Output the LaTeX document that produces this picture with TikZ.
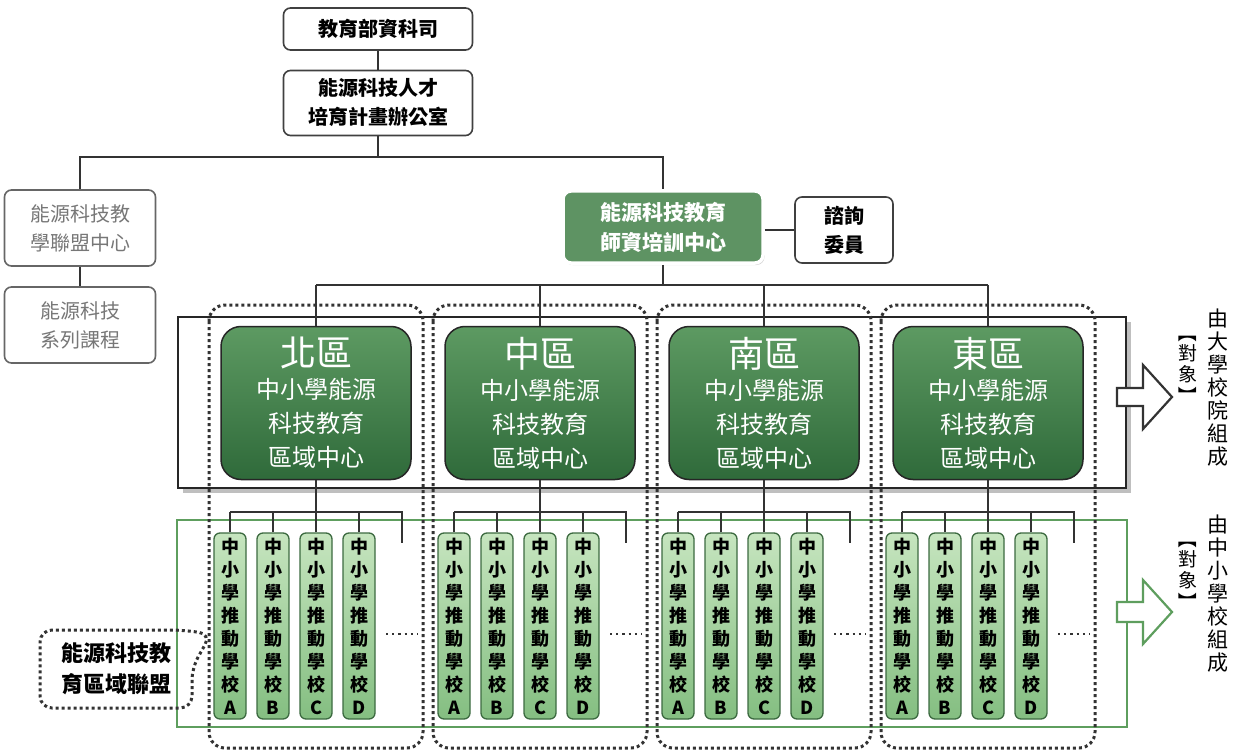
\documentclass[tikz,border=0pt]{standalone}
\usepackage{fontspec}
\setmainfont{Noto Sans CJK TC}
\usetikzlibrary{positioning,shadows}
\definecolor{traingreen}{HTML}{5E9363}
\definecolor{regdark}{HTML}{2F6A3A}
\definecolor{reglight}{HTML}{5D9A62}
\definecolor{schlight}{HTML}{C6E5BF}
\definecolor{schdark}{HTML}{84BE81}
\definecolor{schedge}{HTML}{3C6A40}
\definecolor{framegreen}{HTML}{5E9E5E}
\definecolor{graytext}{HTML}{777777}
\newcommand{\vbrk}[1]{\rotatebox[origin=c]{-90}{#1}}
\begin{document}
\begin{tikzpicture}[x=1pt,y=-1pt]
\tikzstyle{every node}+=[inner sep=0pt]
\tikzstyle{link}=[line width=1.4pt,black!80]
\tikzstyle{plainbox}=[draw=black!75,line width=1.6pt,rounded corners=7pt,fill=white,align=center,
  font=\bfseries\fontsize{20}{29}\selectfont,minimum width=189pt]
\tikzstyle{graybox}=[plainbox,draw=black!60,text=graytext,font=\fontsize{20}{29}\selectfont,minimum width=151pt,minimum height=76pt]
\tikzstyle{trainbox}=[draw=white,line width=3.5pt,rounded corners=8pt,fill=traingreen,text=white,align=center,
  font=\bfseries\fontsize{21}{30}\selectfont,minimum width=200pt,minimum height=72pt,
  drop shadow={opacity=0.35,shadow xshift=1.5pt,shadow yshift=-2pt}]
\tikzstyle{regionbox}=[draw=black!85,line width=1.5pt,rounded corners=20pt,top color=reglight,bottom color=regdark,
  text=white,align=center,font=\fontsize{24}{34}\selectfont,minimum width=190pt,minimum height=153pt]
\tikzstyle{schoolbox}=[draw=schedge,line width=1.3pt,rounded corners=6pt,top color=schlight,bottom color=schdark,
  align=center,font=\bfseries\fontsize{18}{23}\selectfont,minimum width=32pt,minimum height=186pt]
\tikzstyle{dotline}=[line width=3pt,black!80,dash pattern=on 3pt off 3pt]
\tikzstyle{sidetext}=[align=center,font=\fontsize{21}{23}\selectfont]
\tikzstyle{tagtext}=[align=center,font=\fontsize{19}{21}\selectfont]
\useasboundingbox (0,0) rectangle (1234,754);

% frames
\fill[black!25] (183,322) rectangle (1131,493);
\draw[line width=2.6pt,black!85,fill=white] (178,317) rectangle (1126,488);
\draw[line width=2pt,framegreen] (177,520) rectangle (1127,727);

% top of the chart
\node[plainbox,minimum height=42pt] (moe) at (378,29) {教育部資科司};
\node[plainbox,minimum height=65pt] (office) at (378,103) {能源科技人才\\培育計畫辦公室};
\node[graybox] (league) at (80,228) {能源科技教\\學聯盟中心};
\node[graybox] (course) at (80,325) {能源科技\\系列課程};
\node[trainbox] (train) at (663,227) {能源科技教育\\師資培訓中心};
\node[plainbox,minimum width=98pt,minimum height=66pt] (advice) at (844,230) {諮詢\\委員};
\coordinate (split) at (378,157);
\coordinate (rsplit) at (663,285);
\draw[link] (moe) -- (office);
\draw[link] (office) -- (split);
\draw[link] (league.north) |- (split) -| (train.north);
\draw[link] (league) -- (course);
\draw[link] (train.east |- advice.west) -- (advice.west);
\draw[link] (train.south) -- (rsplit);

% regions and their schools
\foreach \r/\area/\cx in {n/北區/316,c/中區/540,s/南區/764,e/東區/988}{
  \draw[dotline,rounded corners=16pt] (\cx-107,305) rectangle (\cx+107,748);
  \node[regionbox] (reg-\r) at (\cx,403) {{\fontsize{36}{40}\selectfont\area}\\[-2pt]中小學能源\\科技教育\\區域中心};
  \draw[link] (reg-\r.north) -- (reg-\r.north |- rsplit);
  \coordinate (bus-\r) at (\cx,512);
  \coordinate (stub-\r) at (\cx+86,543);
  \draw[link] (reg-\r.south) -- (bus-\r);
  \foreach \school/\dx in {A/-86,B/-43,C/0,D/43}{
    \node[schoolbox] (sch-\r\school) at (\cx+\dx,626) {中\\小\\學\\推\\動\\學\\校\\\school};
    \draw[link] (sch-\r\school.north) -- (sch-\r\school.north |- bus-\r);
  }
  \draw[link] (sch-\r A.north |- bus-\r) -| (stub-\r);
  \draw[dotline,line width=2.2pt,dash pattern=on 2.2pt off 4pt] (\cx+70,634) -- (\cx+102,634);
}
\draw[link] (reg-n.north |- rsplit) -- (reg-e.north |- rsplit);

% alliance bubble
\node[align=center,font=\bfseries\fontsize{22}{31}\selectfont] (alliance) at (116,669) {能源科技教\\育區域聯盟};
\draw[dotline,rounded corners=12pt] (192,668) -- (192,708) -- (40,708) -- (40,630) -- (182,630) -- (211,634) -- cycle;

% arrows and side labels
\draw[line width=2.2pt,black!80,fill=white] (1117,388) -- (1143,388) -- (1143,365) -- (1172,397)
  -- (1143,429) -- (1143,406) -- (1117,406) -- cycle;
\draw[line width=2.2pt,framegreen,fill=white] (1117,602) -- (1143,602) -- (1143,580) -- (1172,612)
  -- (1143,644) -- (1143,622) -- (1117,622) -- cycle;
\node[sidetext] (uni) at (1218,388) {由\\大\\學\\校\\院\\組\\成};
\node[tagtext] (unitag) at (1188,364) {\vbrk{【}\\對\\象\\\vbrk{】}};
\node[sidetext] (sch) at (1218,594) {由\\中\\小\\學\\校\\組\\成};
\node[tagtext] (schtag) at (1188,570) {\vbrk{【}\\對\\象\\\vbrk{】}};
\end{tikzpicture}
\end{document}
